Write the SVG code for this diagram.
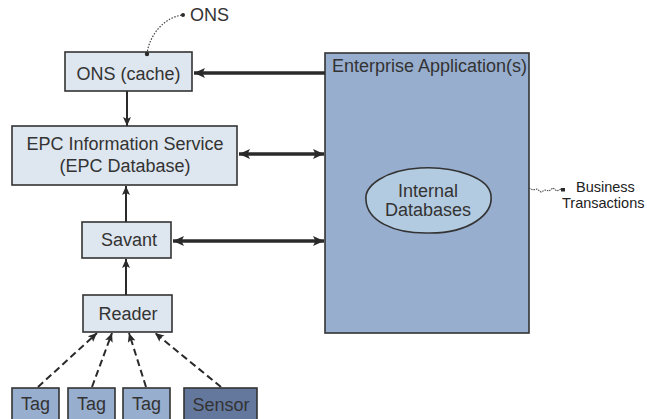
<svg xmlns="http://www.w3.org/2000/svg" width="647" height="419" viewBox="0 0 647 419">
<style>
.box{fill:#dee6ef;stroke:#333;stroke-width:1.6}
.tag{fill:#98aecf;stroke:#333;stroke-width:1.6}
.t{font-family:"Liberation Sans",Arial,sans-serif;font-size:18px;fill:#333}
.s{font-family:"Liberation Sans",Arial,sans-serif;font-size:14.5px;fill:#222}
.thin{stroke:#2a2a2a;stroke-width:2;fill:none}
.thick{stroke:#2a2a2a;stroke-width:3.5;fill:none}
.dash{stroke:#2a2a2a;stroke-width:2;fill:none;stroke-dasharray:7,4}
</style>
<defs>
<marker id="ah" markerUnits="userSpaceOnUse" markerWidth="10" markerHeight="10" refX="9" refY="5" orient="auto-start-reverse">
<path d="M0,1 L9,5 L0,9 L2,5 Z" fill="#2a2a2a"/>
</marker>
<marker id="ahb" markerUnits="userSpaceOnUse" markerWidth="12" markerHeight="12" refX="11" refY="6" orient="auto-start-reverse">
<path d="M0,1 L11,6 L0,11 L2.5,6 Z" fill="#2a2a2a"/>
</marker>
</defs>

<g id="enterprise">
<rect x="325" y="53" width="204" height="280" fill="#98aecf" stroke="#333" stroke-width="1.6"/>
<text class="t" x="332" y="72">Enterprise Application(s)</text>
</g>
<g id="internal-db">
<path d="M366,200 C364,186 385,170 420,168 C455,166 490,178 491,196 C493,214 470,233 430,233 C392,234 367,220 366,200 Z" fill="#b3cbe0" stroke="#333" stroke-width="1.6"/>
<text class="t" x="428" y="197" text-anchor="middle">Internal</text>
<text class="t" x="428" y="216" text-anchor="middle">Databases</text>
</g>

<g id="ons-cache">
<rect class="box" x="65" y="52" width="127" height="39"/>
<text class="t" x="128.5" y="80" text-anchor="middle">ONS (cache)</text>
</g>
<g id="ons-label">
<text class="t" x="190" y="21">ONS</text>
</g>
<g id="epc-is">
<rect class="box" x="12" y="126" width="225" height="59"/>
<text class="t" x="125" y="150" text-anchor="middle">EPC Information Service</text>
<text class="t" x="125" y="172" text-anchor="middle">(EPC Database)</text>
</g>
<g id="savant">
<rect class="box" x="82" y="222" width="89" height="36"/>
<text class="t" x="129" y="246" text-anchor="middle">Savant</text>
</g>
<g id="reader">
<rect class="box" x="83" y="295" width="89" height="37"/>
<text class="t" x="128" y="320" text-anchor="middle">Reader</text>
</g>
<g id="tag1">
<rect class="tag" x="12" y="388" width="47" height="40"/>
<text class="t" x="35.5" y="410" text-anchor="middle">Tag</text>
</g>
<g id="tag2">
<rect class="tag" x="68" y="388" width="47" height="40"/>
<text class="t" x="91.5" y="410" text-anchor="middle">Tag</text>
</g>
<g id="tag3">
<rect class="tag" x="123" y="388" width="47" height="40"/>
<text class="t" x="146.5" y="410" text-anchor="middle">Tag</text>
</g>
<g id="sensor">
<rect x="184" y="388" width="73" height="40" fill="#64789e" stroke="#333" stroke-width="1.6"/>
<text class="t" x="221" y="411" text-anchor="middle">Sensor</text>
</g>
<g id="business">
<text class="s" x="576" y="192">Business</text>
<text class="s" x="562" y="208">Transactions</text>
</g>

<g id="connectors">
<path class="thick" d="M325,73 L194,73" marker-end="url(#ahb)"/>
<path class="thick" d="M239,154 L324,154" marker-start="url(#ahb)" marker-end="url(#ahb)"/>
<path class="thick" d="M173,241 L324,241" marker-start="url(#ahb)" marker-end="url(#ahb)"/>
<path class="thin" d="M127,91 L127,126" marker-end="url(#ah)"/>
<path class="thin" d="M126,222 L126,186" marker-end="url(#ah)"/>
<path class="thin" d="M126,295 L126,259" marker-end="url(#ah)"/>
<path class="dash" d="M38,387 L97,333" marker-end="url(#ah)"/>
<path class="dash" d="M92,387 L112,333" marker-end="url(#ah)"/>
<path class="dash" d="M146,387 L129,333" marker-end="url(#ah)"/>
<path class="dash" d="M221,387 L155,333" marker-end="url(#ah)"/>
<path d="M147,54 C149,36 163,18 182,15" fill="none" stroke="#444" stroke-width="1.2" stroke-dasharray="1.5,1.5"/>
<circle cx="147" cy="54" r="2.2" fill="#2a2a2a"/>
<circle cx="183" cy="15" r="2" fill="#2a2a2a"/>
<path d="M529,188 L533,190 L537,189 L541,192 L545,190 L549,191 L553,188 L557,191 L561,189" fill="none" stroke="#444" stroke-width="1.1" stroke-dasharray="1.5,1"/>
<rect x="561" y="188" width="4" height="3.5" fill="#2a2a2a"/>
</g>
</svg>
